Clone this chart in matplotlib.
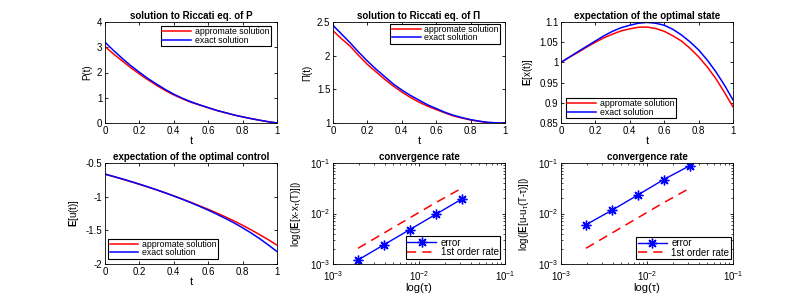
import matplotlib
matplotlib.use('Agg')
import matplotlib.pyplot as plt
from matplotlib.ticker import FormatStrFormatter

plt.rcParams['font.family'] = ['Liberation Sans', 'DejaVu Sans']
plt.rcParams['mathtext.fontset'] = 'custom'
plt.rcParams['mathtext.rm'] = 'Liberation Sans'
plt.rcParams['mathtext.it'] = 'Liberation Sans:italic'
plt.rcParams['mathtext.bf'] = 'Liberation Sans:bold'
plt.rcParams['axes.unicode_minus'] = False

# time grid of the estimated curves
t = [0.0, 0.05, 0.1, 0.15, 0.2, 0.25, 0.3, 0.35, 0.4, 0.45, 0.5,
     0.55, 0.6, 0.65, 0.7, 0.75, 0.8, 0.85, 0.9, 0.95, 1.0]

# Riccati P
P_approx = [3.03, 2.73, 2.46, 2.19, 1.94, 1.71, 1.49, 1.29, 1.11, 0.96, 0.82,
            0.71, 0.60, 0.495, 0.405, 0.315, 0.24, 0.17, 0.107, 0.05, 0.0]
P_exact = [3.20, 2.87, 2.56, 2.27, 2.01, 1.76, 1.54, 1.33, 1.14, 0.98, 0.84,
           0.72, 0.61, 0.50, 0.41, 0.32, 0.245, 0.175, 0.11, 0.05, 0.0]

# Riccati Pi
Pi_approx = [2.37, 2.25, 2.14, 2.00, 1.87, 1.76, 1.65, 1.55, 1.46, 1.38, 1.31,
             1.25, 1.20, 1.15, 1.105, 1.073, 1.045, 1.024, 1.008, 1.001, 1.0]
Pi_exact = [2.45, 2.32, 2.19, 2.05, 1.92, 1.80, 1.69, 1.58, 1.49, 1.41, 1.34,
            1.27, 1.215, 1.16, 1.115, 1.08, 1.05, 1.027, 1.01, 1.002, 1.0]

# expectation of optimal state
x_approx = [1.0, 1.013, 1.025, 1.038, 1.05, 1.061, 1.07, 1.078, 1.083, 1.087, 1.0875,
            1.084, 1.077, 1.066, 1.053, 1.035, 1.014, 0.989, 0.96, 0.926, 0.89]
x_exact = [1.0, 1.0135, 1.027, 1.040, 1.053, 1.066, 1.077, 1.086, 1.092, 1.097, 1.099,
           1.097, 1.092, 1.082, 1.068, 1.051, 1.031, 1.006, 0.977, 0.944, 0.907]

# expectation of optimal control
u_approx = [-0.665, -0.702, -0.739, -0.777, -0.816, -0.857, -0.899, -0.943, -0.989, -1.036, -1.085,
            -1.136, -1.188, -1.242, -1.30, -1.36, -1.425, -1.493, -1.565, -1.64, -1.72]
u_exact = [-0.665, -0.700, -0.736, -0.774, -0.814, -0.855, -0.898, -0.943, -0.990, -1.039, -1.090,
           -1.144, -1.200, -1.260, -1.323, -1.389, -1.462, -1.540, -1.625, -1.718, -1.815]

# convergence
tau = [1/512, 1/256, 1/128, 1/64, 1/32]
err_x = [0.0012, 0.0024, 0.0048, 0.0096, 0.0192]
err_u = [0.0060, 0.0116, 0.0232, 0.047, 0.088]
rate = [0.00205, 0.0041, 0.0082, 0.0164, 0.0315]

fig = plt.figure(figsize=(8.1, 2.96), dpi=100)

W, H = 810.0, 296.0
cols = [105, 333, 561]
tops = [22, 163]
aw, ah = 172, 101


def make_ax(col, row):
    l = cols[col] / W
    b = 1 - (tops[row] + ah) / H
    ax = fig.add_axes([l, b, aw / W, ah / H])
    ax.tick_params(direction='in', top=True, right=True, labelsize=7, length=2.5, width=0.6, pad=2)
    ax.tick_params(which='minor', direction='in', top=True, right=True, length=1.5, width=0.5)
    for s in ax.spines.values():
        s.set_linewidth(0.6)
    return ax


def legend(ax, labels, loc, anchor, size=6.3, hl=3.3):
    lg = ax.legend(labels, loc=loc, bbox_to_anchor=anchor, borderaxespad=0, fontsize=size,
                   fancybox=False, framealpha=1, edgecolor='black', handlelength=hl,
                   handletextpad=0.45, borderpad=0.15, labelspacing=-0.05)
    lg.get_frame().set_linewidth(0.8)


lbl = ['appromate solution', 'exact solution']

# P
ax = make_ax(0, 0)
ax.plot(t, P_approx, color='red', lw=1.1)
ax.plot(t, P_exact, color='blue', lw=1.1)
ax.set_xlim(0, 1)
ax.set_ylim(0, 4)
ax.set_yticks([0, 1, 2, 3, 4])
ax.set_xticks([0, 0.2, 0.4, 0.6, 0.8, 1])
ax.xaxis.set_major_formatter(FormatStrFormatter('%g'))
ax.set_title('solution to Riccati eq. of P', fontsize=7, fontweight='bold', pad=2)
ax.set_xlabel('t', fontsize=8, labelpad=0)
ax.set_ylabel('P(t)', fontsize=7, labelpad=3)
legend(ax, lbl, 'upper right', (1 - 6 / 172, 1 - 4 / 101))

# Pi
ax = make_ax(1, 0)
ax.plot(t, Pi_approx, color='red', lw=1.1)
ax.plot(t, Pi_exact, color='blue', lw=1.1)
ax.set_xlim(0, 1)
ax.set_ylim(1, 2.5)
ax.set_yticks([1, 1.5, 2, 2.5])
ax.set_xticks([0, 0.2, 0.4, 0.6, 0.8, 1])
ax.xaxis.set_major_formatter(FormatStrFormatter('%g'))
ax.yaxis.set_major_formatter(FormatStrFormatter('%g'))
ax.set_title('solution to Riccati eq. of Π', fontsize=7, fontweight='bold', pad=2)
ax.set_xlabel('t', fontsize=8, labelpad=0)
ax.set_ylabel('Π(t)', fontsize=7, labelpad=3)
legend(ax, lbl, 'upper right', (1 - 4.7 / 172, 1 - 1.5 / 101))

# state
ax = make_ax(2, 0)
ax.plot(t, x_approx, color='red', lw=1.1)
ax.plot(t, x_exact, color='blue', lw=1.1)
ax.set_xlim(0, 1)
ax.set_ylim(0.85, 1.1)
ax.set_yticks([0.85, 0.9, 0.95, 1, 1.05, 1.1])
ax.set_xticks([0, 0.2, 0.4, 0.6, 0.8, 1])
ax.xaxis.set_major_formatter(FormatStrFormatter('%g'))
ax.yaxis.set_major_formatter(FormatStrFormatter('%g'))
ax.set_title('expectation of the optimal state', fontsize=7, fontweight='bold', pad=2)
ax.set_xlabel('t', fontsize=8, labelpad=0)
ax.set_ylabel(r'$\mathbf{E}$[x(t)]', fontsize=7, labelpad=3)
legend(ax, lbl, 'lower left', (5 / 172, 5 / 101))

# control
ax = make_ax(0, 1)
ax.plot(t, u_approx, color='red', lw=1.1)
ax.plot(t, u_exact, color='blue', lw=1.1)
ax.set_xlim(0, 1)
ax.set_ylim(-2, -0.5)
ax.set_yticks([-2, -1.5, -1, -0.5])
ax.set_xticks([0, 0.2, 0.4, 0.6, 0.8, 1])
ax.xaxis.set_major_formatter(FormatStrFormatter('%g'))
ax.yaxis.set_major_formatter(FormatStrFormatter('%g'))
ax.set_title('expectation of the optimal control', fontsize=7, fontweight='bold', pad=2)
ax.set_xlabel('t', fontsize=8, labelpad=0)
ax.set_ylabel(r'$\mathbf{E}$[u(t)]', fontsize=7, labelpad=3)
legend(ax, lbl, 'lower left', (3.3 / 172, 5.3 / 101))

# convergence rates
for col, err, ylab, anc in [(1, err_x, r'log(|$\mathbf{E}$[x-x$_{\mathrm{τ}}$(T)]|)', (1 - 5 / 172, 5.3 / 101)),
                            (2, err_u, r'log(|$\mathbf{E}$[u-u$_{\mathrm{τ}}$(T-τ)]|)', (1 - 2.3 / 172, 5 / 101))]:
    ax = make_ax(col, 1)
    ax.loglog(tau, err, color='blue', lw=1.0, marker=(8, 2, 0), ms=7, mew=1.0)
    ax.loglog(tau, rate, color='red', lw=1.1, ls=(0, (6, 4)))
    ax.set_xlim(1e-3, 1e-1)
    ax.set_ylim(1e-3, 1e-1)
    ax.tick_params(axis='x', pad=3.5)
    ax.set_title('convergence rate', fontsize=7, fontweight='bold', pad=2)
    ax.set_xlabel('log(τ)', fontsize=8, labelpad=0)
    ax.set_ylabel(ylab, fontsize=7, labelpad=5)
    legend(ax, ['error', '1st order rate'], 'lower right', anc, size=7, hl=3.0)

fig.savefig('out.png', dpi=100)
